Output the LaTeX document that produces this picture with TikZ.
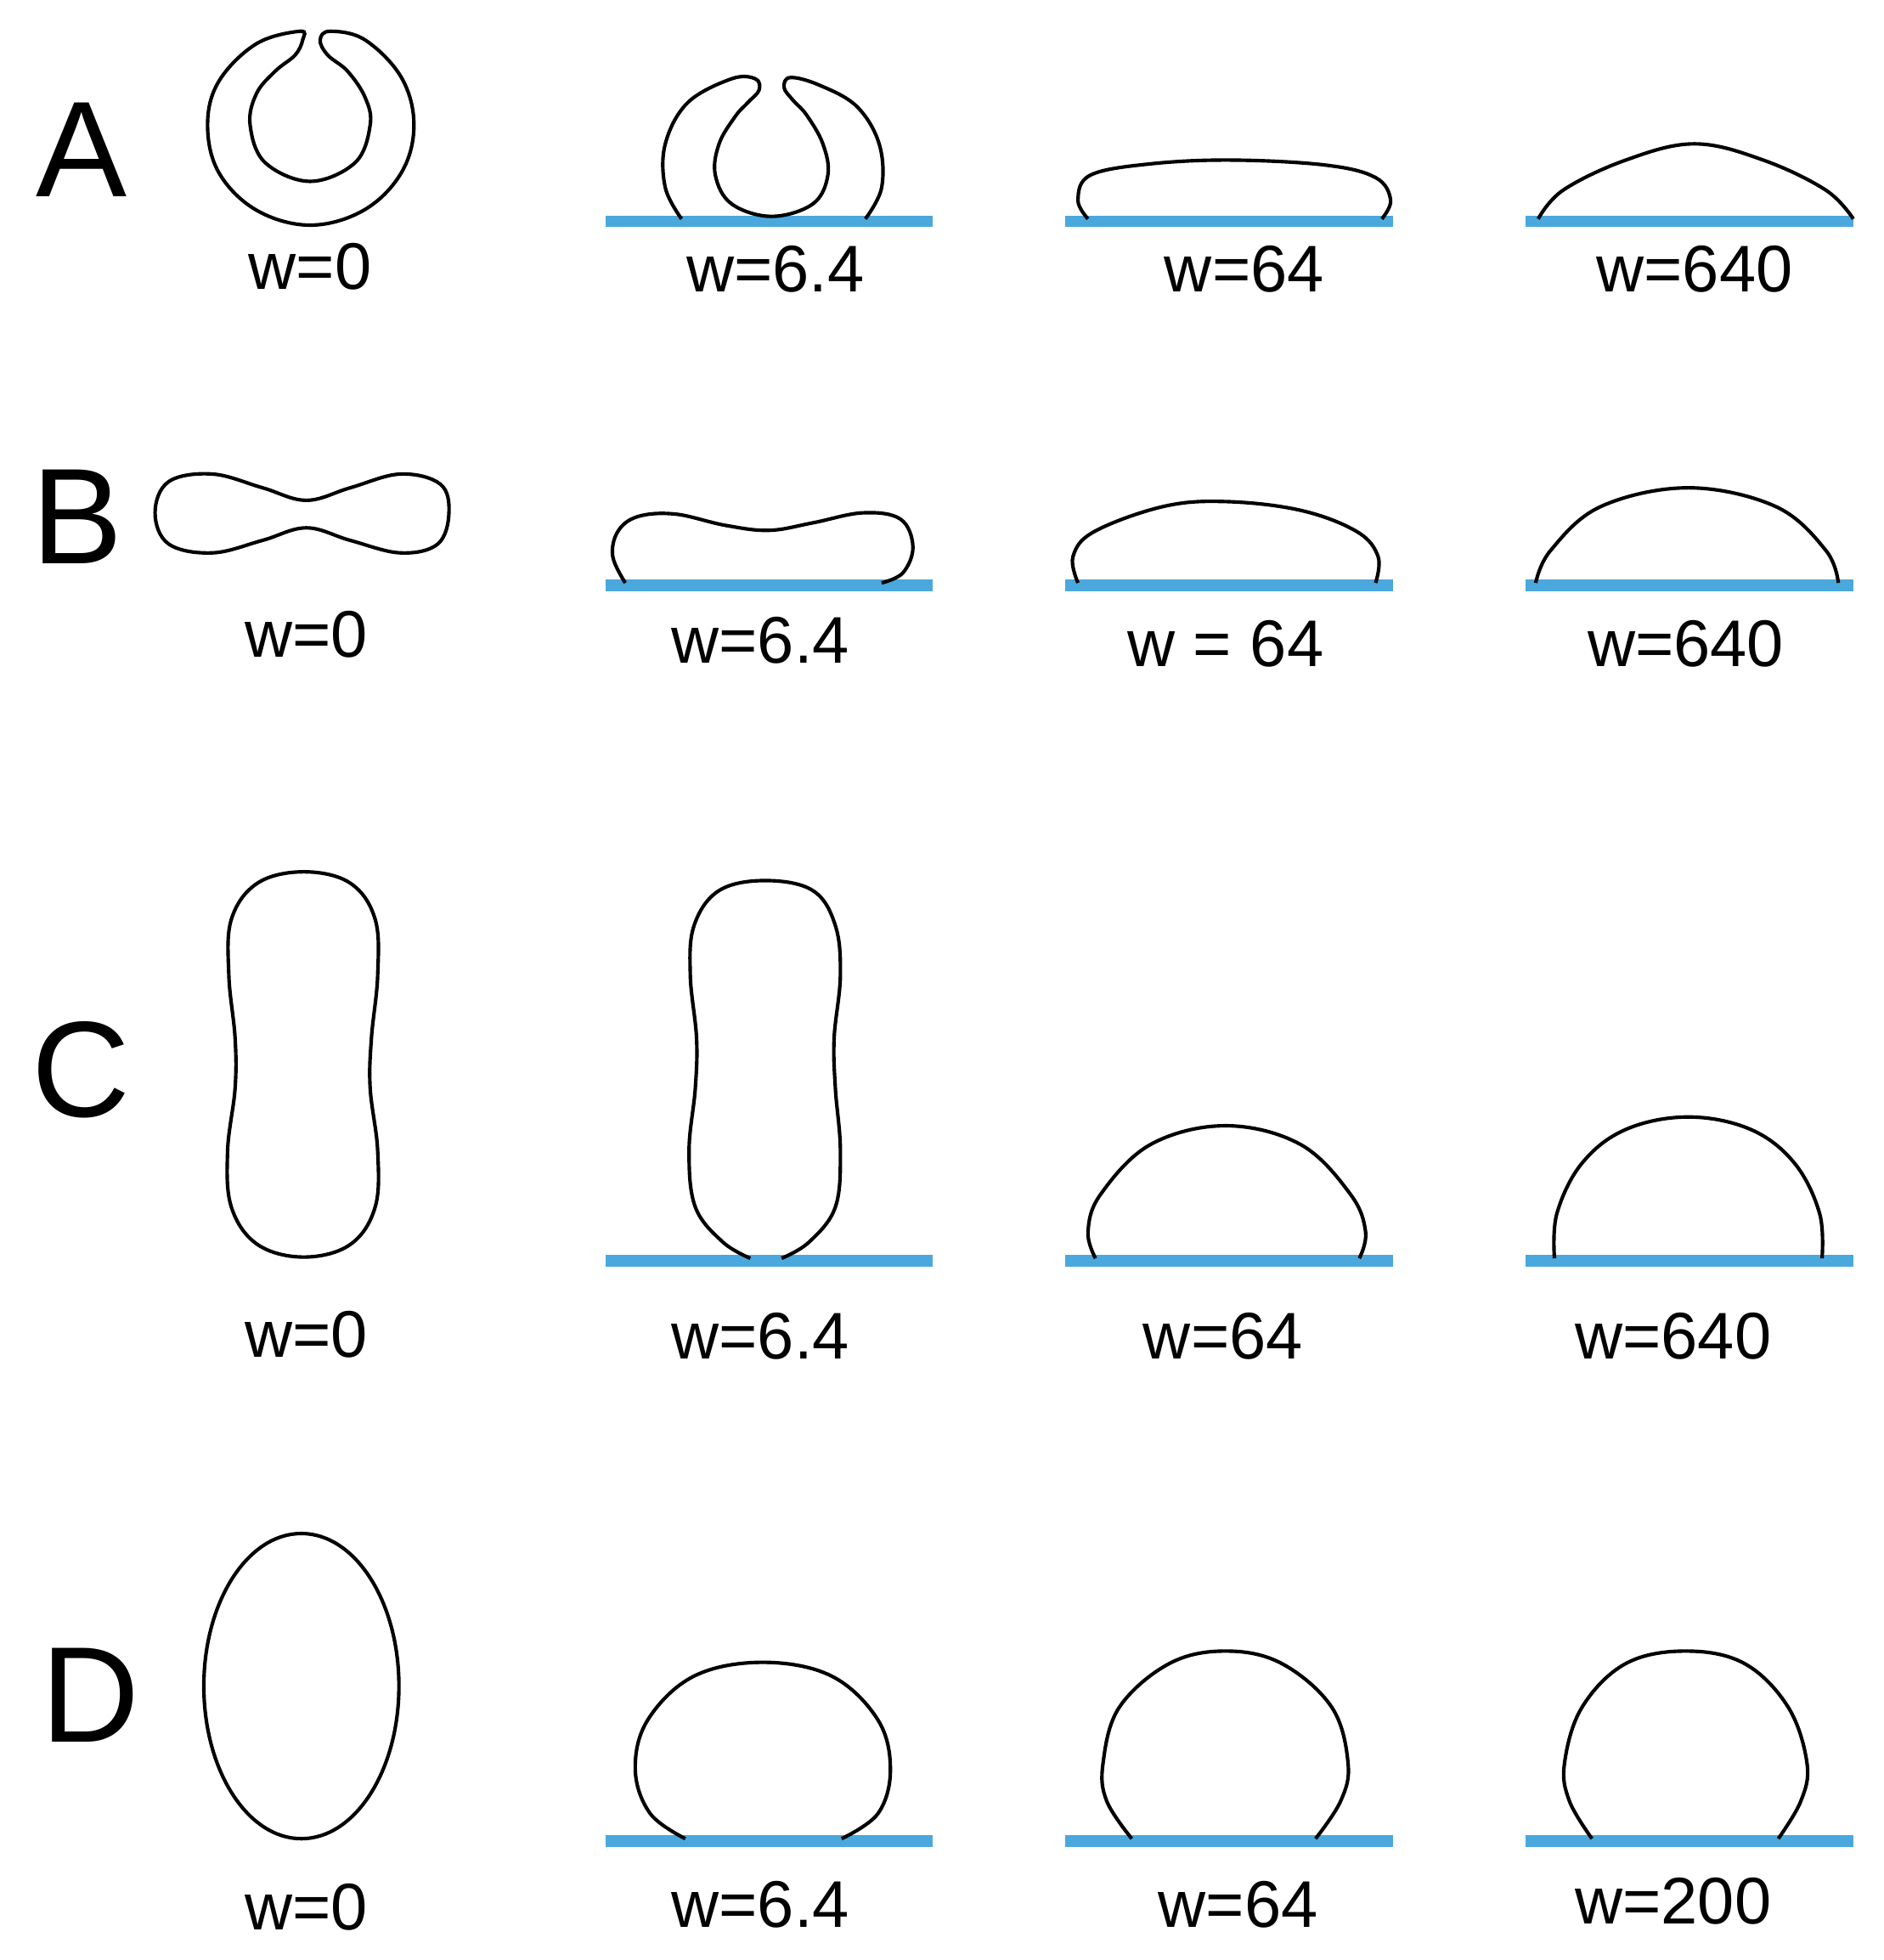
\documentclass[tikz,border=0pt]{standalone}
\usepackage{fontspec}
\setmainfont{Liberation Sans}
\begin{document}
\begin{tikzpicture}[x=0.01cm,y=-0.01cm,
  cell/.style={draw=black,line width=0.8pt,tension=0.62},
  sub/.style={draw={rgb,255:red,74;green,168;blue,220},line width=2.6pt},
  lbl/.style={font=\fontsize{15}{18}\selectfont},
  letter/.style={font=\fontsize{31}{36}\selectfont}]
\useasboundingbox (0,0) rectangle (1506,1567);
% letters
\node[letter] (LA) at (65,120) {A};
\node[letter] (LB) at (62,413) {B};
\node[letter] (LC) at (65,855) {C};
\node[letter] (LD) at (72,1355) {D};
% substrates
\foreach \y/\r in {177/A,468/B,1008/C,1472/D}{
  \draw[sub] (484,\y) -- (746,\y);
  \draw[sub] (852,\y) -- (1114,\y);
  \draw[sub] (1220,\y) -- (1482,\y);
}
% row A
\draw[cell] plot[smooth cycle] coordinates {(240,25) (205,35) (175,65) (166,100) (175,138) (205,168) (248,180) (291,168) (321,138) (331,100) (321,62) (292,32) (264,25) (256,32) (262,44) (278,57) (292,78) (296,100) (284,130) (248,145) (212,130) (200,100) (205,75) (220,57) (236,44) (242,32)};
\draw[cell] plot[smooth] coordinates {(545,175) (532,150) (532,115) (550,82) (585,63) (604,63) (607,72) (598,82) (588,93) (575,115) (572,140) (585,163) (617,173) (650,163) (662,140) (658,115) (645,92) (634,80) (627,70) (632,62) (655,68) (685,85) (703,115) (705,150) (692,175)};
\draw[cell] plot[smooth] coordinates {(870,175) (862,160) (872,140) (920,131) (985,128) (1060,132) (1100,142) (1112,160) (1105,175)};
\draw[cell] plot[smooth] coordinates {(1230,175) (1250,152) (1300,128) (1355,115) (1410,128) (1460,152) (1482,175)};
% row B
\draw[cell] plot[smooth cycle] coordinates {(124,410) (135,385) (170,379) (210,390) (245,400) (280,390) (320,379) (352,387) (359,410) (350,435) (320,442) (280,432) (245,422) (210,432) (170,442) (135,435)};
\draw[cell] plot[smooth] coordinates {(500,466) (490,445) (494,425) (510,413) (540,411) (580,420) (615,424) (650,418) (690,410) (720,415) (730,437) (722,458) (705,466)};
\draw[cell] plot[smooth] coordinates {(862,466) (858,445) (875,425) (930,405) (980,401) (1040,408) (1085,425) (1102,445) (1100,466)};
\draw[cell] plot[smooth] coordinates {(1228,466) (1240,440) (1280,405) (1350,390) (1420,405) (1460,440) (1470,466)};
% row C
\draw[cell] plot[smooth cycle] coordinates {(243,697) (280,706) (300,735) (302,780) (297,830) (296,870) (302,920) (300,965) (280,995) (243,1005) (206,995) (185,965) (182,920) (188,870) (188,830) (183,780) (185,735) (206,706)};
\draw[cell] plot[smooth] coordinates {(600,1006) (578,993) (556,965) (551,920) (556,870) (557,830) (552,780) (555,740) (575,712) (612,704) (650,712) (668,740) (672,780) (667,830) (668,870) (672,920) (668,965) (647,993) (625,1006)};
\draw[cell] plot[smooth] coordinates {(876,1006) (870,985) (880,955) (920,915) (980,900) (1040,915) (1080,955) (1092,985) (1087,1006)};
\draw[cell] plot[smooth] coordinates {(1243,1006) (1245,970) (1265,930) (1300,903) (1350,893) (1400,903) (1435,930) (1455,970) (1457,1006)};
% row D
\draw[cell] (241,1348) ellipse[x radius=78,y radius=122];
\draw[cell] plot[smooth] coordinates {(548,1470) (520,1450) (508,1415) (518,1375) (555,1340) (610,1329) (665,1340) (702,1375) (712,1415) (702,1450) (673,1470)};
\draw[cell] plot[smooth] coordinates {(905,1470) (885,1440) (882,1410) (895,1365) (935,1330) (980,1320) (1025,1330) (1065,1365) (1078,1410) (1072,1440) (1052,1470)};
\draw[cell] plot[smooth] coordinates {(1273,1470) (1255,1440) (1251,1410) (1265,1365) (1300,1330) (1348,1320) (1395,1330) (1430,1365) (1445,1410) (1440,1440) (1422,1470)};
% labels
\node[lbl] (a1) at (248,213) {w=0};
\node[lbl] (a2) at (620,215) {w=6.4};
\node[lbl] (a3) at (995,215) {w=64};
\node[lbl] (a4) at (1355,215) {w=640};
\node[lbl] (b1) at (245,507) {w=0};
\node[lbl] (b2) at (608,512) {w=6.4};
\node[lbl] (b3) at (980,515) {w = 64};
\node[lbl] (b4) at (1348,515) {w=640};
\node[lbl] (c1) at (245,1067) {w=0};
\node[lbl] (c2) at (608,1068) {w=6.4};
\node[lbl] (c3) at (978,1068) {w=64};
\node[lbl] (c4) at (1338,1068) {w=640};
\node[lbl] (d1) at (245,1525) {w=0};
\node[lbl] (d2) at (608,1523) {w=6.4};
\node[lbl] (d3) at (990,1523) {w=64};
\node[lbl] (d4) at (1338,1520) {w=200};
\end{tikzpicture}
\end{document}
